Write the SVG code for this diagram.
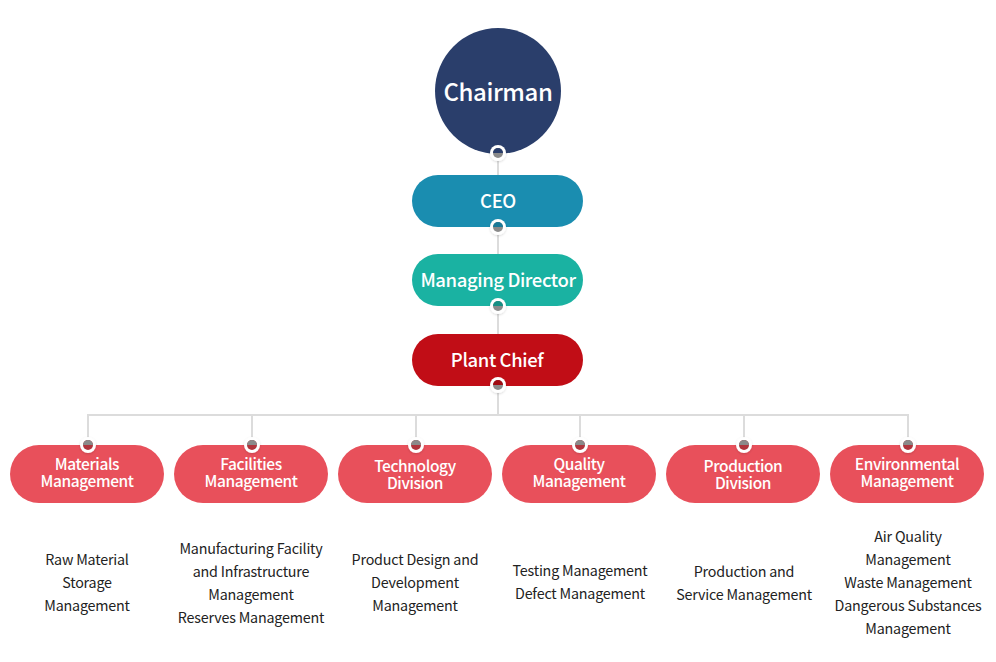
<svg xmlns="http://www.w3.org/2000/svg" width="996" height="662" viewBox="0 0 996 662">
<style>
text{font-family:"Noto Sans CJK KR","Noto Sans","Liberation Sans",sans-serif;text-anchor:middle}
.w{fill:#fff;font-weight:500;letter-spacing:-0.4px}
.lbl{font-size:15.5px;fill:#fff;font-weight:500;letter-spacing:-0.4px}
.desc{font-size:14.3px;fill:#222;letter-spacing:-0.2px}
.dept{fill:#e8505b}
.ln{stroke:#dcdcdc;stroke-width:2;fill:none}
.ring{fill:#fff}
.g{fill:#8a8a8a}
</style>
<defs>
<filter id="sh" x="-20%" y="-20%" width="140%" height="150%"><feDropShadow dx="0" dy="1" stdDeviation="1" flood-color="#000" flood-opacity="0.15"/></filter>
</defs>
<g id="connectors">
<line class="ln" x1="498" y1="150" x2="498" y2="415"/>
<polyline class="ln" points="88,445 88,415 908,415 908,445"/>
<line class="ln" x1="252" y1="415" x2="252" y2="445"/>
<line class="ln" x1="416" y1="415" x2="416" y2="445"/>
<line class="ln" x1="580" y1="415" x2="580" y2="445"/>
<line class="ln" x1="744" y1="415" x2="744" y2="445"/>
</g>
<g id="chairman">
<circle cx="498" cy="91" r="63" fill="#2a3e6b"/>
<text x="498" y="101" class="w" style="font-size:24px">Chairman</text>
</g>
<g id="ceo">
<rect x="412" y="175" width="171" height="52" rx="26" fill="#1a8db0"/>
<text x="498" y="208" class="w" style="font-size:18.5px">CEO</text>
</g>
<g id="managing-director">
<rect x="412" y="254" width="171" height="52" rx="26" fill="#1ab2a2"/>
<text x="498" y="287" class="w" style="font-size:18.5px">Managing Director</text>
</g>
<g id="plant-chief">
<rect x="412" y="334" width="171" height="52" rx="26" fill="#c10d16"/>
<text x="497" y="367" class="w" style="font-size:18.5px">Plant Chief</text>
</g>
<g id="dots">
<g filter="url(#sh)">
<circle class="ring" cx="498" cy="153" r="8"/>
<circle class="ring" cx="498" cy="227" r="8"/>
<circle class="ring" cx="498" cy="306" r="8"/>
<circle class="ring" cx="498" cy="385" r="8"/>
</g>
<circle class="g" cx="498" cy="153" r="5"/><path d="M493,153a5,5 0 0 1 10,0z" fill="#2a3e6b"/>
<circle class="g" cx="498" cy="227" r="5"/><path d="M493,227a5,5 0 0 1 10,0z" fill="#1a7a98"/>
<circle class="g" cx="498" cy="306" r="5"/><path d="M493,306a5,5 0 0 1 10,0z" fill="#168f84"/>
<circle class="g" cx="498" cy="385" r="5"/><path d="M493,385a5,5 0 0 1 10,0z" fill="#a00b12"/>
</g>
<g id="materials">
<rect class="dept" x="10" y="445" width="154" height="58" rx="29"/>
<text class="lbl"><tspan x="87" y="470">Materials</tspan><tspan x="87" y="487">Management</tspan></text>
<text class="desc"><tspan x="87" y="565">Raw Material</tspan><tspan x="87" y="588">Storage</tspan><tspan x="87" y="611">Management</tspan></text>
</g>
<g id="facilities">
<rect class="dept" x="174" y="445" width="154" height="58" rx="29"/>
<text class="lbl"><tspan x="251" y="470">Facilities</tspan><tspan x="251" y="487">Management</tspan></text>
<text class="desc"><tspan x="251" y="554">Manufacturing Facility</tspan><tspan x="251" y="577">and Infrastructure</tspan><tspan x="251" y="600">Management</tspan><tspan x="251" y="623">Reserves Management</tspan></text>
</g>
<g id="technology">
<rect class="dept" x="338" y="445" width="154" height="58" rx="29"/>
<text class="lbl"><tspan x="415" y="472">Technology</tspan><tspan x="415" y="489">Division</tspan></text>
<text class="desc"><tspan x="415" y="565">Product Design and</tspan><tspan x="415" y="588">Development</tspan><tspan x="415" y="611">Management</tspan></text>
</g>
<g id="quality">
<rect class="dept" x="502" y="445" width="154" height="58" rx="29"/>
<text class="lbl"><tspan x="579" y="470">Quality</tspan><tspan x="579" y="487">Management</tspan></text>
<text class="desc"><tspan x="580" y="576">Testing Management</tspan><tspan x="580" y="599">Defect Management</tspan></text>
</g>
<g id="production">
<rect class="dept" x="666" y="445" width="154" height="58" rx="29"/>
<text class="lbl"><tspan x="743" y="472">Production</tspan><tspan x="743" y="489">Division</tspan></text>
<text class="desc"><tspan x="744" y="577">Production and</tspan><tspan x="744" y="600">Service Management</tspan></text>
</g>
<g id="environmental">
<rect class="dept" x="830" y="445" width="154" height="58" rx="29"/>
<text class="lbl"><tspan x="907" y="470">Environmental</tspan><tspan x="907" y="487">Management</tspan></text>
<text class="desc"><tspan x="908" y="542">Air Quality</tspan><tspan x="908" y="565">Management</tspan><tspan x="908" y="588">Waste Management</tspan><tspan x="908" y="611">Dangerous Substances</tspan><tspan x="908" y="634">Management</tspan></text>
</g>
<g id="dept-dots">
<g filter="url(#sh)">
<circle class="ring" cx="88" cy="445" r="8"/><circle class="ring" cx="252" cy="445" r="8"/><circle class="ring" cx="416" cy="445" r="8"/>
<circle class="ring" cx="580" cy="445" r="8"/><circle class="ring" cx="744" cy="445" r="8"/><circle class="ring" cx="908" cy="445" r="8"/>
</g>
<g fill="#b0343c">
<circle cx="88" cy="445" r="5"/><circle cx="252" cy="445" r="5"/><circle cx="416" cy="445" r="5"/>
<circle cx="580" cy="445" r="5"/><circle cx="744" cy="445" r="5"/><circle cx="908" cy="445" r="5"/>
</g>
<g class="g">
<path d="M83,445a5,5 0 0 1 10,0z"/><path d="M247,445a5,5 0 0 1 10,0z"/><path d="M411,445a5,5 0 0 1 10,0z"/>
<path d="M575,445a5,5 0 0 1 10,0z"/><path d="M739,445a5,5 0 0 1 10,0z"/><path d="M903,445a5,5 0 0 1 10,0z"/>
</g>
</g>
</svg>
